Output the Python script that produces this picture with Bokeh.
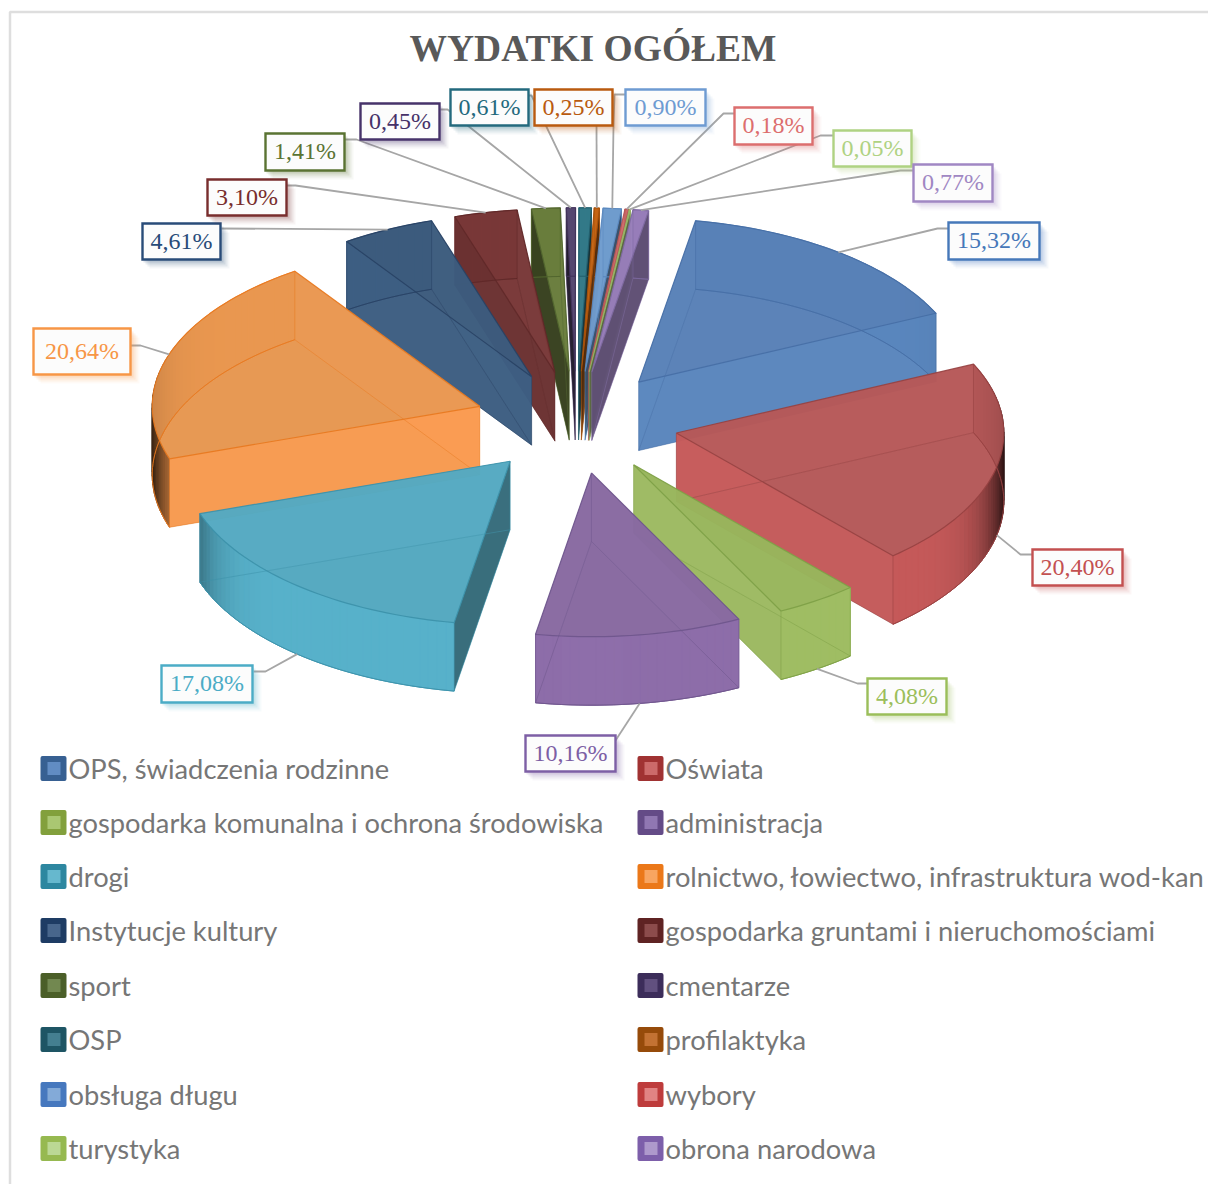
import math
from bokeh.plotting import figure
from bokeh.models import Range1d
from bokeh.core.properties import value
from bokeh.embed import file_html
from bokeh.resources import INLINE

TITLE = "WYDATKI OGÓŁEM"
categories = ["OPS, świadczenia rodzinne", "Oświata", "gospodarka komunalna i ochrona środowiska",
              "administracja", "drogi", "rolnictwo, łowiectwo, infrastruktura wod-kan",
              "Instytucje kultury", "gospodarka gruntami i nieruchomościami", "sport", "cmentarze",
              "OSP", "profilaktyka", "obsługa długu", "wybory", "turystyka", "obrona narodowa"]
values = [15.32, 20.40, 4.08, 10.16, 17.08, 20.64, 4.61, 3.10, 1.41, 0.45, 0.61, 0.25, 0.90, 0.18, 0.05, 0.77]

# styles
face = [(88,128,182),(180,88,88),(150,180,90),(135,105,160),(83,168,192),(230,150,80),(60,90,125),(120,55,55),
        (105,125,60),(85,70,110),(50,120,135),(195,100,20),(110,155,205),(205,105,105),(170,200,120),(150,125,185)]
wall = [(90,135,190),(198,90,90),(160,190,100),(142,110,170),(88,178,203),(250,155,80),(62,95,132),(125,58,58),
        (110,130,62),(88,72,115),(52,125,140),(200,105,25),(115,160,210),(210,110,110),(175,205,125),(155,130,190)]
edge = [(70,110,165),(150,65,65),(125,160,70),(110,85,140),(60,145,170),(232,120,30),(40,65,100),(95,40,40),
        (80,100,45),(65,50,90),(35,95,110),(165,80,10),(90,135,190),(180,85,85),(150,180,100),(125,105,160)]
ink = [(70,120,185),(195,80,80),(155,190,90),(125,95,165),(75,172,198),(247,150,70),(40,75,120),(120,45,45),
       (90,115,50),(70,50,105),(35,105,125),(185,90,15),(110,155,210),(220,110,110),(175,210,130),(160,135,195)]
swatch = [(55,96,146),(160,50,50),(130,160,60),(100,75,135),(45,135,160),(235,120,25),(30,60,100),(95,35,35),
          (75,95,40),(60,45,90),(30,85,100),(150,75,10),(70,120,190),(190,60,60),(150,185,80),(125,95,170)]
# layout: label boxes (left, top, right, bottom) and leader elbows
boxes = [(948,222,1039,259),(1032,549,1122,585),(867,678,946,714),(525,735,615,771),(161,665,252,702),(33,328,130,374),
         (142,223,220,259),(207,179,286,215),(265,133,344,170),(360,103,439,139),(450,89,528,125),(534,89,612,125),
         (625,89,705,125),(734,107,812,144),(833,130,911,166),(913,164,992,201)]
elbows = [[(937,228),(948,228)],[(1020,554),(1032,554)],[(857,683),(867,683)],[(615,740)],[(265,671),(253,671)],[(140,345),(130,345)],
          [(221,228)],[(295,185),(286,185)],[(356,139),(344,139)],[(447,109),(440,109)],[(531,95),(528,95)],[(596,125)],
          [(613,125),(614,94),(625,94)],[(723,113),(734,113)],[(820,135),(833,135)],[(900,170),(913,170)]]
legend_rows = [769, 823, 877, 931, 986, 1040, 1095, 1149]
legend_cols = [(40, 68), (637, 665)]

CX, CY, R, K, EXPLODE, H, START = 576.0, 422.0, 327.5, 0.5, 102.0, 68.5, 10.0


def rgb(c, a=None):
    return "#%02x%02x%02x" % tuple(int(max(0, min(255, v))) for v in c)


def shade(c, f):
    return tuple(v * f for v in c)


def mix(c, t):
    return tuple(v + (255 - v) * t for v in c)


p = figure(width=1208, height=1184, x_range=Range1d(0, 1208), y_range=Range1d(1184, 0),
           x_axis_type=None, y_axis_type=None, toolbar_location=None, output_backend="svg",
           min_border=0, outline_line_color=None, background_fill_color="white", border_fill_color="white")
p.grid.visible = False

# chart frame
p.line([1210, 9.5, 9.5], [11.5, 11.5, 1186], line_color="#dedede", line_width=2.5)

total = sum(values)
slices = []
acc = 0.0
for i, v in enumerate(values):
    a0 = math.radians(START + acc / total * 360)
    acc += v
    a1 = math.radians(START + acc / total * 360)
    mid = (a0 + a1) / 2
    ox = CX + EXPLODE * math.sin(mid)
    oy = CY - EXPLODE * K * math.cos(mid)
    slices.append(dict(i=i, a0=a0, a1=a1, mid=mid, ox=ox, oy=oy))


def pt(s, th, r, z=0.0):
    return (s["ox"] + r * math.sin(th), s["oy"] - r * K * math.cos(th) + z)


for s in sorted(slices, key=lambda d: d["oy"]):
    i = s["i"]
    n = max(2, int(math.degrees(s["a1"] - s["a0"]) / 1.5))
    ths = [s["a0"] + (s["a1"] - s["a0"]) * j / n for j in range(n + 1)]
    top_arc = [pt(s, t, R) for t in ths]
    bot_arc = [pt(s, t, R, H) for t in ths]
    tip = (s["ox"], s["oy"])
    tipb = (s["ox"], s["oy"] + H)

    # bottom face
    xs, ys = zip(*([tipb] + bot_arc))
    p.patch(list(xs), list(ys), fill_color=rgb(face[i]), fill_alpha=0.85, line_color=None)

    # cut walls split into hidden (faces away) and visible
    back_cuts, front_cuts = [], []
    for th, sign in ((s["a0"], -1), (s["a1"], 1)):
        nx, ny = sign * math.cos(th), -sign * math.sin(th)
        f = 1 - 0.7 * abs(nx) ** 30
        a, b = pt(s, th, R), pt(s, th, R, H)
        rec = ([tip[0], a[0], b[0], tipb[0]], [tip[1], a[1], b[1], tipb[1]], f)
        (back_cuts if ny > 0 else front_cuts).append(rec)
    for cxs, cys, f in back_cuts:
        p.patch(cxs, cys, fill_color=rgb(wall[i]), fill_alpha=0.85, line_color=None)

    # outer wall, shaded along the normal
    wx, wy, wc = [], [], []
    for j in range(n):
        tm = (ths[j] + ths[j + 1]) / 2
        f = 1 - 0.78 * abs(math.sin(tm)) ** 16
        wx.append([top_arc[j][0], top_arc[j + 1][0], bot_arc[j + 1][0], bot_arc[j][0]])
        wy.append([top_arc[j][1], top_arc[j + 1][1], bot_arc[j + 1][1], bot_arc[j][1]])
        wc.append(rgb(shade(wall[i], f)))
    p.patches(wx, wy, fill_color=wc, line_color=wc, line_width=1)

    for cxs, cys, f in front_cuts:
        p.patch(cxs, cys, fill_color=rgb(shade(wall[i], f)), fill_alpha=0.85, line_color=None)

    # top face
    xs, ys = zip(*([tip] + top_arc))
    p.patch(list(xs), list(ys), fill_color=rgb(face[i]), fill_alpha=0.85, line_color=None)

    # hidden edges seen through the glass
    hx = [tipb[0]] + [q[0] for q in bot_arc] + [tipb[0]]
    hy = [tipb[1]] + [q[1] for q in bot_arc] + [tipb[1]]
    p.line(hx, hy, line_color=rgb(edge[i]), line_alpha=0.5, line_width=1)
    for th in (s["a0"], s["a1"]):
        a, b = pt(s, th, R), pt(s, th, R, H)
        p.line([a[0], b[0]], [a[1], b[1]], line_color=rgb(edge[i]), line_alpha=0.5, line_width=1)
    p.line([tip[0], tipb[0]], [tip[1], tipb[1]], line_color=rgb(edge[i]), line_alpha=0.5, line_width=1)
    # visible edges
    hx = [tip[0]] + [q[0] for q in top_arc] + [tip[0]]
    hy = [tip[1]] + [q[1] for q in top_arc] + [tip[1]]
    p.line(hx, hy, line_color=rgb(edge[i]), line_alpha=0.9, line_width=1.2, line_join="round")
    # silhouette of the lower rim
    fx = [q[0] for q in bot_arc]
    fy = [q[1] for q in bot_arc]
    p.line(fx, fy, line_color=rgb(edge[i]), line_alpha=0.8, line_width=1)

# leaders
for s in slices:
    i = s["i"]
    z = H if math.cos(s["mid"]) < 0 else 0.0
    a = pt(s, s["mid"], R, z)
    pts = [a] + elbows[i]
    p.line([q[0] for q in pts], [q[1] for q in pts], line_color="#a6a6a6", line_width=1.8)

# value labels
fmt = lambda v: ("%.2f" % v).replace(".", ",") + "%"
for i, (x0, y0, x1, y1) in enumerate(boxes):
    for d, a in ((9, 0.05), (7, 0.08), (5, 0.10), (3, 0.14)):
        p.quad(left=[x0 + d - 2], right=[x1 + d], top=[y0 + d], bottom=[y1 + d],
               fill_color=rgb(ink[i]), fill_alpha=a, line_color=None)
    p.quad(left=[x0], right=[x1], top=[y0], bottom=[y1], fill_color="#fcfcfc", fill_alpha=1,
           line_color=rgb(ink[i]), line_width=2.4, line_join="miter")
    p.text([(x0 + x1) / 2], [(y0 + y1) / 2 - 1], text=[fmt(values[i])], text_align="center",
           text_baseline="middle", text_font=value("Liberation Serif"), text_font_size="24px",
           text_color=rgb(ink[i]))

# title
p.text([592.5], [48], text=[TITLE], text_align="center", text_baseline="middle",
       text_font=value("Liberation Serif"), text_font_style="bold", text_font_size="37.5px", text_color="#595959")

# legend
for i, name in enumerate(categories):
    row = legend_rows[i // 2] - 1.5
    sx, tx = legend_cols[i % 2]
    outer = swatch[i]
    inner = mix(ink[i], 0.15)
    p.quad(left=[sx + 2], right=[sx + 24], top=[row - 10], bottom=[row + 11], fill_color=rgb(outer),
           line_color=rgb(outer), line_width=4, line_join="round")
    p.quad(left=[sx + 7], right=[sx + 20], top=[row - 6], bottom=[row + 7], fill_color=rgb(inner), line_color=None)
    p.text([tx], [row], text=[name], text_align="left", text_baseline="middle",
           text_font=value("Lato"), text_font_size="27.3px", text_color="#767676")

open("out.html", "w").write(file_html(p, INLINE))
